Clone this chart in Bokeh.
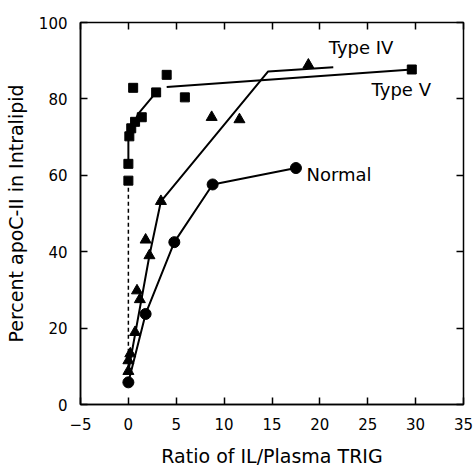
from bokeh.plotting import figure
from bokeh.models import LinearAxis, FixedTicker, Label, CustomLabelingPolicy
from bokeh.embed import file_html
from bokeh.resources import INLINE

# ---- data ----
x_ticks = [-5, 0, 5, 10, 15, 20, 25, 30, 35]
y_ticks = [0, 20, 40, 60, 80, 100]

# Type V (squares)
typeV_x = [0.0, 0.0, 0.1, 0.3, 0.7, 1.4, 0.5, 2.9, 4.0, 5.9, 29.6]
typeV_y = [58.6, 63.0, 70.2, 72.3, 74.0, 75.2, 82.9, 81.7, 86.3, 80.4, 87.7]
typeV_fit1_x = [0.0, 0.0, 1.0, 2.9]
typeV_fit1_y = [63.0, 70.0, 76.0, 81.7]
typeV_fit2_x = [4.0, 29.6]
typeV_fit2_y = [83.1, 87.7]
typeV_dash_x = [0.0, 0.0]
typeV_dash_y = [58.6, 8.0]

# Type IV (triangles)
typeIV_x = [0.0, 0.0, 0.2, 0.7, 1.2, 0.9, 2.2, 1.8, 3.4, 8.7, 11.6, 18.8]
typeIV_y = [8.7, 11.5, 13.3, 18.9, 27.5, 29.8, 39.0, 43.1, 53.2, 75.2, 74.6, 88.9]
typeIV_fit_x = [0.0, 2.2, 3.4, 14.6, 21.4]
typeIV_fit_y = [8.7, 39.0, 53.2, 87.2, 88.3]

# Normal (circles)
normal_x = [0.0, 1.8, 4.8, 8.8, 17.5]
normal_y = [5.8, 23.7, 42.5, 57.6, 61.9]

FONT = "DejaVu Sans"

p = figure(frame_width=383, frame_height=382,
           x_range=(-5, 35), y_range=(0, 100),
           output_backend="svg", toolbar_location=None,
           min_border_left=80, min_border_top=22, min_border_right=4,
           min_border_bottom=50)

p.xgrid.visible = False
p.ygrid.visible = False
p.outline_line_color = "black"
p.outline_line_width = 1.5
p.background_fill_color = "white"
p.border_fill_color = "white"

p.xaxis.ticker = FixedTicker(ticks=x_ticks)
p.yaxis.ticker = FixedTicker(ticks=y_ticks)
for ax in (p.xaxis[0], p.yaxis[0]):
    ax.major_tick_in = 7
    ax.major_tick_out = 0
    ax.minor_tick_line_color = None
    ax.axis_line_color = "black"
    ax.axis_line_width = 1.5
    ax.major_tick_line_color = "black"
    ax.major_tick_line_width = 1.5
    ax.major_label_text_font = FONT
    ax.major_label_text_font_size = "15px"
    ax.major_label_text_color = "black"
    ax.axis_label_text_font = FONT
    ax.axis_label_text_font_size = "19px"
    ax.axis_label_text_font_style = "normal"
    ax.axis_label_text_color = "black"

p.xaxis.axis_label = "Ratio of IL/Plasma TRIG"
p.yaxis.axis_label = "Percent apoC-II in Intralipid"
p.xaxis.major_label_standoff = 13
p.yaxis.major_label_standoff = 13
p.xaxis.axis_label_standoff = 12
p.yaxis.axis_label_standoff = 9

# mirrored axes (ticks only, labels filtered out)
no_labels = CustomLabelingPolicy(code="""
for (const i of [...indices]) { indices.unset(i) }
return indices
""")
top = LinearAxis(ticker=FixedTicker(ticks=x_ticks), major_tick_in=7, major_tick_out=0,
                 minor_tick_line_color=None, major_label_policy=no_labels,
                 axis_line_color=None, major_tick_line_width=1.5, major_label_standoff=0)
right = LinearAxis(ticker=FixedTicker(ticks=y_ticks), major_tick_in=7, major_tick_out=0,
                   minor_tick_line_color=None, major_label_policy=no_labels,
                   axis_line_color=None, major_tick_line_width=1.5, major_label_standoff=0)
p.add_layout(top, "above")
p.add_layout(right, "right")

lw = 2
# lines
p.line(typeV_fit1_x, typeV_fit1_y, line_color="black", line_width=lw)
p.line(typeV_fit2_x, typeV_fit2_y, line_color="black", line_width=lw)
p.line(typeV_dash_x, typeV_dash_y, line_color="black", line_width=1.5, line_dash="4 3")
p.line(typeIV_fit_x, typeIV_fit_y, line_color="black", line_width=lw)
p.line(normal_x, normal_y, line_color="black", line_width=lw)

# markers
p.scatter(typeV_x, typeV_y, marker="square", size=9, color="black")
p.scatter(typeIV_x, typeIV_y, marker="triangle", size=11, color="black")
p.scatter(normal_x, normal_y, marker="circle", size=11, color="black")

# series labels
p.add_layout(Label(x=24.3, y=93.5, text="Type IV", text_font=FONT, text_font_size="18px",
                   text_align="center", text_baseline="middle", text_color="black"))
p.add_layout(Label(x=28.5, y=82.5, text="Type V", text_font=FONT, text_font_size="18px",
                   text_align="center", text_baseline="middle", text_color="black"))
p.add_layout(Label(x=18.6, y=60.2, text="Normal", text_font=FONT, text_font_size="18px",
                   text_align="left", text_baseline="middle", text_color="black"))

open("out.html", "w").write(file_html(p, INLINE))
